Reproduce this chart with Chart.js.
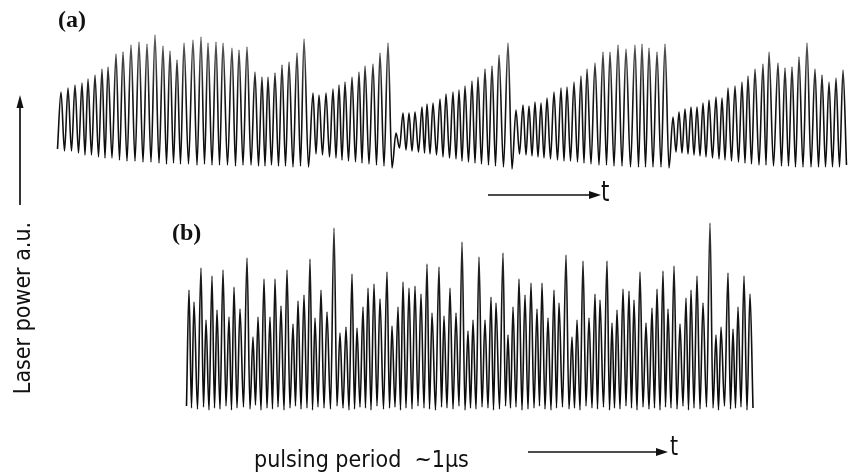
<!DOCTYPE html>
<html>
<head>
<meta charset="utf-8">
<script src="https://cdn.jsdelivr.net/npm/chart.js@4.4.0/dist/chart.umd.min.js"></script>
<style>
    body { margin: 0; background: #fff; width: 851px; height: 475px; position: relative; overflow: hidden; }
    .box { position: absolute; }
    .lbl { position: absolute; font-family: "DejaVu Sans Condensed", "DejaVu Sans", sans-serif; color: #111; white-space: nowrap; line-height: 1; }
    .tag { position: absolute; font-family: "Liberation Serif", "DejaVu Serif", serif; font-weight: bold; font-size: 24px; color: #111; line-height: 1; }
    svg { position: absolute; left: 0; top: 0; }
</style>
</head>
<body>
<div class="box" style="left:50px;top:20px;width:801px;height:155px"><canvas id="traceA"></canvas></div>
<div class="box" style="left:180px;top:210px;width:671px;height:210px"><canvas id="traceB"></canvas></div>

<svg width="851" height="475">
    <line x1="20" y1="205" x2="20" y2="106" stroke="#111" stroke-width="1.7"/>
    <polygon points="20,95 16.5,108 23.5,108" fill="#111"/>
    <line x1="488" y1="195" x2="590" y2="195" stroke="#111" stroke-width="1.7"/>
    <polygon points="601,195 589,191 589,199" fill="#111"/>
    <line x1="528" y1="452" x2="657" y2="452" stroke="#111" stroke-width="1.7"/>
    <polygon points="668,452 656,448 656,456" fill="#111"/>
</svg>

<div class="tag" style="left:58px;top:7px">(a)</div>
<div class="tag" style="left:172px;top:220px">(b)</div>
<div class="lbl" style="left:22px;top:308px;font-size:23px;transform:translate(-50%,-50%) rotate(-90deg)">Laser power a.u.</div>
<div class="lbl" style="left:601px;top:178px;font-size:28px;transform:scaleX(0.85);transform-origin:left">t</div>
<div class="lbl" style="left:670px;top:432px;font-size:27px;transform:scaleX(0.85);transform-origin:left">t</div>
<div class="lbl" style="left:254px;top:448px;font-size:23px">pulsing period&nbsp;&nbsp;~1μs</div>

<script>
// (a) peak times and peak heights, five sawtooth groups
var timesA = [
    11, 18, 25, 32, 38, 45, 52, 58, 66, 73, 81, 89, 97, 105, 113, 120, 127, 134, 143, 151,
    158, 166, 173, 182, 189, 197, 205, 212, 218, 225, 232, 239, 247, 254,
    263, 269, 276, 283, 289, 295, 302, 309, 315, 323, 330, 338,
    346, 353, 359, 365, 372, 377, 383, 390, 396, 403, 409, 415, 422, 428, 435, 442, 449, 458,
    466, 473, 479, 485, 491, 497, 504, 511, 517, 524, 531, 537, 545, 553, 560, 568, 576, 585, 592, 599, 607, 615,
    623, 629, 635, 641, 647, 653, 659, 666, 672, 678, 685, 692, 698, 705, 713, 719, 728, 735, 742, 749, 757, 765, 772, 779, 786, 793
];
var peaksA = [
    78, 82, 85, 87, 91, 95, 101, 103, 116, 118, 125, 128, 126, 135, 124, 119, 110, 127, 130, 133,
    127, 128, 127, 122, 120, 123, 98, 93, 93, 97, 105, 108, 117, 131,
    77, 75, 77, 81, 85, 88, 93, 98, 104, 106, 117, 127,
    37, 57, 57, 58, 63, 66, 67, 71, 76, 78, 80, 84, 89, 93, 101, 104, 115, 127,
    60, 65, 64, 68, 67, 72, 78, 82, 83, 88, 94, 101, 107, 118, 118, 125, 121, 125, 126, 122, 118, 126,
    53, 58, 61, 63, 63, 67, 70, 73, 72, 82, 84, 88, 94, 101, 106, 118, 107, 102, 103, 113, 127, 101, 95, 88, 92, 100
];
// trough before each peak, plus the last one
var troughsA = [
    21, 19, 19, 17, 15, 15, 13, 12, 12, 10, 9, 9, 8, 8, 7, 6, 7, 6, 6, 5,
    6, 5, 5, 5, 4, 5, 5, 4, 4, 5, 4, 4, 3, 4,
    3, 16, 15, 13, 12, 10, 9, 8, 7, 6, 5, 4,
    2, 22, 20, 19, 18, 17, 16, 15, 13, 12, 11, 9, 8, 7, 6, 5, 4, 3,
    1, 16, 15, 14, 13, 12, 11, 10, 9, 9, 8, 7, 6, 5, 5, 4, 4, 3, 3, 3, 3, 3,
    2, 18, 17, 16, 15, 14, 13, 12, 11, 10, 9, 8, 7, 6, 5, 5, 4, 4, 4, 3, 3, 3, 3, 3, 3, 3,
    5
];

// (b) irregular pulsing
var timesB = [
    9, 14, 21, 26, 32, 37, 43, 49, 54, 60, 67, 73, 78, 84, 90, 95, 101, 107, 113, 118,
    124, 130, 135, 141, 147, 154, 160, 166, 172, 177, 183, 188, 194, 200, 207, 212, 218, 223, 229, 235,
    241, 247, 252, 259, 264, 270, 276, 282, 288, 293, 299, 305, 311, 316, 323, 328, 333, 339, 345, 351,
    357, 362, 368, 374, 379, 386, 392, 397, 403, 409, 415, 420, 427, 432, 437, 443, 449, 454, 460, 466,
    472, 477, 483, 488, 494, 500, 506, 511, 517, 523, 530, 536, 541, 548, 553, 558, 564, 570
];
var peaksB = [
    130, 118, 152, 100, 144, 110, 150, 103, 133, 111, 162, 83, 103, 141, 103, 141, 114, 150, 96, 119,
    125, 161, 102, 130, 108, 192, 87, 93, 146, 92, 113, 132, 136, 121, 148, 94, 113, 138, 132, 134,
    126, 156, 107, 153, 104, 132, 107, 178, 89, 100, 163, 100, 123, 117, 167, 85, 113, 141, 125, 137,
    111, 137, 102, 130, 117, 165, 83, 100, 159, 102, 126, 120, 159, 97, 110, 131, 129, 120, 148, 97,
    112, 131, 149, 111, 154, 96, 122, 130, 144, 117, 197, 85, 93, 147, 91, 113, 144, 126
];
var troughsB = [
    14, 12, 11, 13, 10, 12, 11, 14, 10, 12, 13, 11, 15, 10, 12, 11, 13, 10, 12, 14,
    11, 12, 10, 13, 12, 11, 14, 12, 10, 11, 13, 12, 10, 14, 11, 12, 13, 10, 12, 11,
    14, 12, 11, 10, 13, 12, 11, 14, 10, 12, 11, 13, 12, 10, 11, 14, 12, 13, 10, 11,
    12, 14, 11, 10, 12, 13, 11, 12, 10, 14, 12, 11, 13, 10, 12, 11, 14, 12, 10, 13,
    11, 12, 10, 13, 12, 11, 14, 10, 12, 11, 13, 12, 10, 14, 11, 12, 13, 10, 12
];

function buildTrace(times, peaks, troughs) {
    var pts = [];
    for (var i = 0; i < peaks.length; i++) {
        var prev = i > 0 ? times[i - 1] : times[i] - (times[i + 1] - times[i]);
        pts.push({x: (prev + times[i]) / 2, y: troughs[i]});
        pts.push({x: times[i], y: peaks[i]});
    }
    var last = peaks.length - 1;
    pts.push({x: times[last] + (times[last] - times[last - 1]) / 2, y: troughs[last + 1]});
    return pts;
}

function inkColor(midStop, topShade) {
    return function (context) {
        var area = context.chart.chartArea;
        if (!area) return '#111';
        var g = context.chart.ctx.createLinearGradient(0, area.bottom, 0, area.top);
        g.addColorStop(0, '#0a0a0a');
        g.addColorStop(midStop, '#151515');
        g.addColorStop(1, topShade);
        return g;
    };
}

function drawTrace(id, points, xMax, yMin, yMax, midStop, topShade) {
    return new Chart(id, {
        type: 'line',
        data: {
            datasets: [{
                data: points,
                borderColor: inkColor(midStop, topShade),
                borderWidth: 1.6,
                pointRadius: 0,
                cubicInterpolationMode: 'monotone',
                fill: false,
                clip: false
            }]
        },
        options: {
            responsive: true,
            maintainAspectRatio: false,
            animation: false,
            layout: {padding: 0},
            plugins: {legend: {display: false}, tooltip: {enabled: false}},
            scales: {
                x: {type: 'linear', display: false, min: 0, max: xMax},
                y: {display: false, min: yMin, max: yMax}
            }
        }
    });
}

drawTrace('traceA', buildTrace(timesA, peaksA, troughsA), 801, -5, 150, 0.5, '#777');
drawTrace('traceB', buildTrace(timesB, peaksB, troughsB), 671, 0, 210, 0.6, '#444');
</script>
</body>
</html>
